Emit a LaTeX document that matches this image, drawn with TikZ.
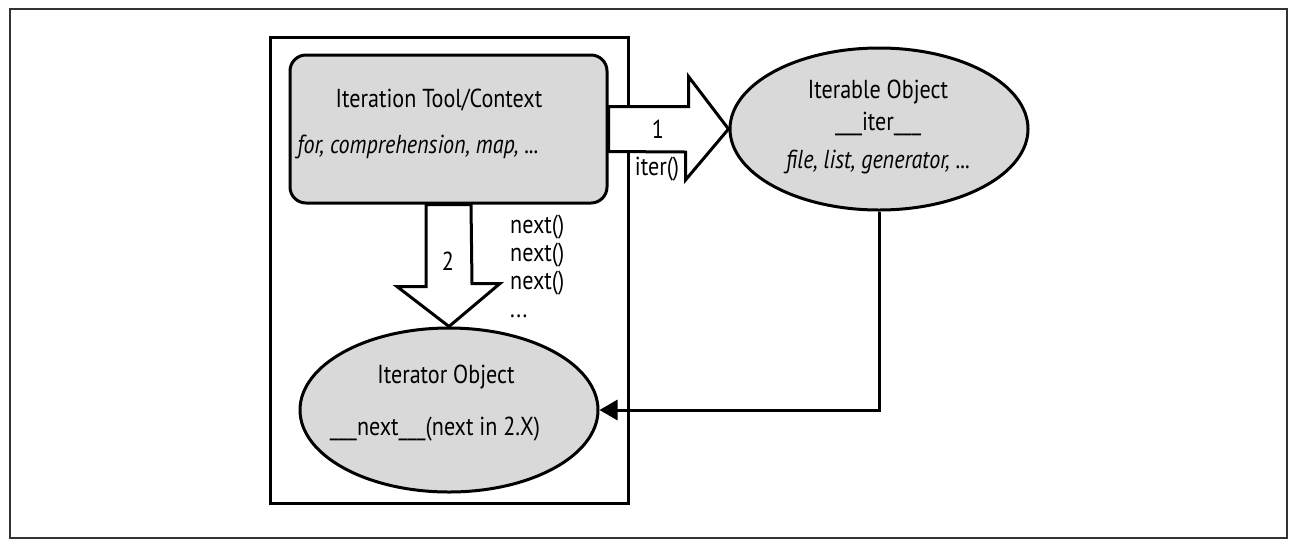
\documentclass[tikz,border=0pt]{standalone}
\usepackage{fontspec}
\setmainfont{PT Sans}[FakeStretch=0.85]
\usetikzlibrary{shapes.geometric,arrows.meta,calc}
\definecolor{boxgray}{HTML}{D9D9D9}
\tikzset{
  thing/.style={draw, line width=3pt, fill=boxgray, inner sep=0pt},
  blockarrow/.style={draw, line width=3pt, fill=white, line join=miter},
  txt/.style={anchor=base, inner sep=0pt, font=\fontsize{26}{28}\selectfont},
}

\begin{document}
\begin{tikzpicture}[x=1pt, y=-1pt]
        \useasboundingbox (0,0) rectangle (1298,550);
        \draw[black!80, line width=1.5pt] (10,9) rectangle (1287,538);
        \draw[line width=3pt] (270,37) rectangle (628,503);
        % shapes
        \node (ctx) [thing, rectangle, rounded corners=16pt, minimum width=317pt, minimum height=148pt] at (448.5,129) {};
        \node (itb) [thing, ellipse, minimum width=298pt, minimum height=162pt] at (879,129) {};
        \node (itr) [thing, ellipse, minimum width=298pt, minimum height=164pt] at (449,410) {};
        % texts
        \node (ctxa) [txt] at (439,107) {Iteration Tool/Context};
        \node (ctxb) [txt] at (418,153) {\itshape for, comprehension, map, ...};
        \node (itba) [txt] at (878,98) {Iterable Object};
        \node (itbb) [txt] at (878,130) {\_\_\_iter\_\_\_};
        \node (itbc) [txt] at (878,168) {\itshape file, list, generator, ...};
        \node (itra) [txt] at (446,383) {Iterator Object};
        \node (itrb) [txt] at (435,435) {\_\_\_next\_\_\_(next in 2.X)};
        % block arrows
        \draw[blockarrow] ($(ctx.east)+(0,-22.5)$) -- ++(80,0) -- ++(0,-30) -- (itb.west)
                -- ++(-43,51) -- ++(0,-28) -- ($(ctx.east)+(0,22.5)$) -- cycle;
        \draw[blockarrow] ($(ctx.south)+(-22.5,0)$) -- ++(0,82) -- ++(-29,0) -- (itr.north)
                -- ++(51,-43) -- ++(-28,0) -- ($(ctx.south)+(22.5,0)$) -- cycle;
        \node (one) [txt] at (658,138) {1};
        \node (itercall) [txt] at (657,175) {iter()};
        \node (two) [txt] at (448,270) {2};
        \node (nexts) [txt, anchor=base west, align=left] at (510,317) {next()\\next()\\next()\\...};
        % return path
        \draw[line width=3pt, -{Triangle[length=18pt,width=20pt]}] (itb.south) |- (itr.east);
\end{tikzpicture}
\end{document}
